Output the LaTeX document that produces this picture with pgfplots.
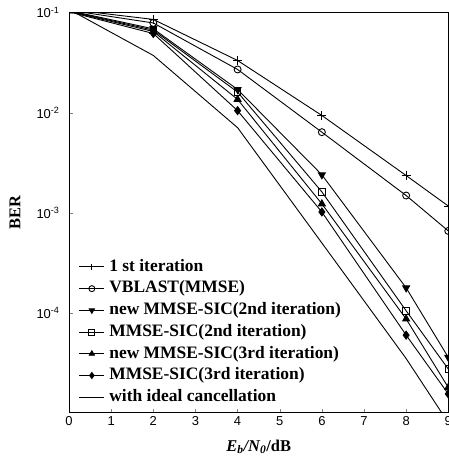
\documentclass[border=0pt]{standalone}
\usepackage{pgfplots}
\pgfplotsset{compat=1.18}
\usepackage{fontspec}
\setmainfont{Liberation Serif}
\newfontfamily\arial{Liberation Sans}
\begin{document}
\begin{tikzpicture}
\begin{axis}[name=ax,
  scale only axis, width=379bp, height=400bp,
  ymode=log, xmin=0, xmax=9, ymin=1e-5, ymax=1e-1,
  xtick={0,1,...,9}, ytick={1e-4,1e-3,1e-2,1e-1},
  yticklabels={10\textsuperscript{-4},10\textsuperscript{-3},10\textsuperscript{-2},10\textsuperscript{-1}},
  yminorticks=false,
  xtick pos=bottom, ytick pos=left, tick align=inside, major tick length=4bp,
  tick label style={font=\arial\fontsize{13}{15}\selectfont},
  /pgf/number format/assume math mode=true,
  yticklabel style={xshift=-6bp},
  axis line style={line width=1pt},
  clip marker paths=true,
  every axis plot/.append style={line width=0.9pt, black},
  xlabel={\bfseries\itshape E\textsubscript{b}/N\textsubscript{0}\upshape/dB},
  ylabel={\bfseries BER},
  label style={font=\fontsize{16.5}{18}\selectfont},
  xlabel style={at={(axis description cs:0.5,-0.085)}, anchor=center},
  ylabel style={at={(axis description cs:-0.1425,0.5)}, anchor=center},
  legend style={at={(0.026,0.015)}, anchor=south west, draw=none, fill=none,
    inner sep=0pt, outer sep=0pt, font=\bfseries\fontsize{17.5}{19}\selectfont,
    row sep=2.2bp, column sep=3.5bp,
    nodes={inner sep=1bp, text height=13bp, text depth=4.5bp, anchor=west}},
  legend cell align=left,
  legend image code/.code={\draw[#1, mark repeat=2, mark phase=2, mark size=3bp] plot coordinates {(0bp,0bp)(12.5bp,0bp)(25bp,0bp)};},
]
\addplot[mark=+, mark size=4.5bp] coordinates {(2,0.0857)(4,0.0333)(6,0.0094)(8,0.00236)(9,0.00117)};
\addlegendentry{1 st iteration}
\addplot[mark=o, mark size=3.5bp] coordinates {(2,0.079)(4,0.0271)(6,0.0064)(8,0.00149)(9,0.00066)};
\addlegendentry{VBLAST(MMSE)}
\addplot[mark=triangle*, mark size=4bp, mark options={rotate=180, fill=black}] coordinates {(2,0.069)(4,0.0171)(6,0.0024)(8,1.78e-4)(9,3.6e-5)};
\addlegendentry{new MMSE-SIC(2nd iteration)}
\addplot[mark=square, mark size=3.2bp] coordinates {(2,0.067)(4,0.0161)(6,0.00162)(8,1.05e-4)(9,2.75e-5)};
\addlegendentry{MMSE-SIC(2nd iteration)}
\addplot[mark=triangle*, mark size=4bp, mark options={fill=black}] coordinates {(2,0.065)(4,0.0136)(6,0.00123)(8,8.7e-5)(9,1.8e-5)};
\addlegendentry{new MMSE-SIC(3rd iteration)}
\addplot[mark=diamond*, mark size=4bp, mark options={fill=black}] coordinates {(2,0.062)(4,0.0105)(6,0.00102)(8,6.0e-5)(9,1.55e-5)};
\addlegendentry{MMSE-SIC(3rd iteration)}
\addplot[no marks] coordinates {(0,0.108)(2,0.0374)(4,0.0071)(6,5.0e-4)(8,3.5e-5)(9,8e-6)};
\addlegendentry{with ideal cancellation}
% segments from 0 to 2 dB (no markers at 0 dB)
\addplot[no marks, forget plot] coordinates {(0,0.108)(2,0.0857)};
\addplot[no marks, forget plot] coordinates {(0,0.106)(2,0.079)};
\addplot[no marks, forget plot] coordinates {(0,0.105)(2,0.069)};
\addplot[no marks, forget plot] coordinates {(0,0.104)(2,0.067)};
\addplot[no marks, forget plot] coordinates {(0,0.103)(2,0.065)};
\addplot[no marks, forget plot] coordinates {(0,0.102)(2,0.062)};
\end{axis}
\pgfresetboundingbox
\path ([shift={(-69bp,-44bp)}]ax.south west) rectangle ([shift={(0bp,12.7bp)}]ax.north east);
\end{tikzpicture}
\end{document}
